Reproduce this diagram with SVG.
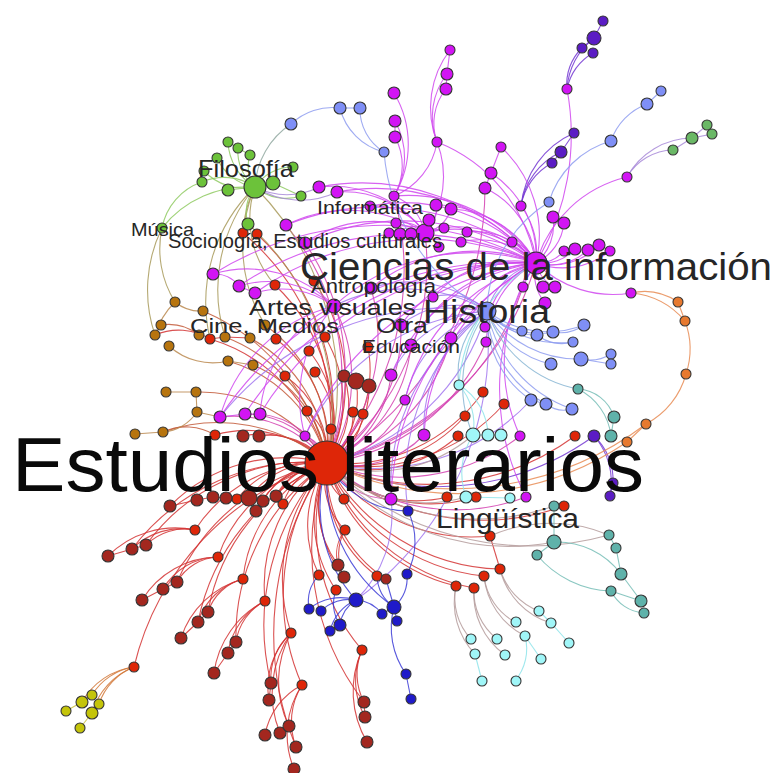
<svg xmlns="http://www.w3.org/2000/svg" width="774" height="773" viewBox="0 0 774 773">
<style>
#edges path{fill:none;stroke-width:1.1;stroke-opacity:.85}
.r path{stroke:#d43434}.rb path{stroke:#c35a3a}.rm path{stroke:#d440b0}.m path{stroke:#d048ee}
.b path{stroke:#8e9cf0}.g path{stroke:#8fca62}.gm path{stroke:#a88ad8}.gb path{stroke:#a89a5a}
.br path{stroke:#bb8a50}.rc path{stroke:#b59c9c}.c path{stroke:#8ee4ea}.t path{stroke:#76bdb6}
.o path{stroke:#e88c55}.p path{stroke:#7438d2}.db path{stroke:#3b3bd6}.bm path{stroke:#a277f0}
.bt path{stroke:#88b6d4}.ry path{stroke:#d27838}.bg path{stroke:#90a8a0}.ye path{stroke:#c8c040}
#nodes circle{stroke:#353535;stroke-width:1.1}
.red{fill:#de2608}.dr{fill:#a3271f}.mg{fill:#d214f4}.bl{fill:#7f8ff6}.gr{fill:#6cc23a}.dg{fill:#6ab866}
.pu{fill:#5b1cc4}.bw{fill:#b7740e}.dbl{fill:#1f1ac9}.cy{fill:#a0f6f8}.te{fill:#5fb2aa}.or{fill:#e7792f}.ye{fill:#c4c40a}
.lab{font-family:"Liberation Sans",Arial,sans-serif;fill:#262626}
</style>
<rect width="774" height="773" fill="#fff"/>
<g id="edges">
<g class="r">
<path d="M327 463A245 245 0 0 0 243 233"/><path d="M327 463A240 240 0 0 0 257 234"/><path d="M327 463A185 185 0 0 0 275 285"/>
<path d="M327 463A170 170 0 0 0 210 339"/><path d="M327 463A134 134 0 0 0 276 339"/><path d="M327 463A126 126 0 0 0 325 337"/>
<path d="M327 463A113 113 0 0 0 309 351"/><path d="M327 463A97 97 0 0 0 285 376"/><path d="M327 463A92 92 0 0 0 315 372"/>
<path d="M327 463A56 56 0 0 0 307 411"/><path d="M327 463A40 40 0 0 0 331 429"/><path d="M327 463A57 57 0 0 0 353 412"/>
<path d="M327 463A61 61 0 0 0 363 414"/><path d="M327 463A115 115 0 0 0 215 435"/><path d="M327 463A97 97 0 0 0 237 499"/>
<path d="M327 463A60 60 0 0 0 277 497"/><path d="M327 463A60 60 0 0 0 283 504"/><path d="M327 463A40 40 0 0 0 344 499"/>
<path d="M327 463A148 148 0 0 0 195 530"/><path d="M327 463A144 144 0 0 0 218 557"/><path d="M327 463A143 143 0 0 0 243 579"/>
<path d="M327 463A281 281 0 0 0 134 667"/><path d="M327 463A151 151 0 0 0 265 601"/><path d="M327 463A174 174 0 0 0 291 633"/>
<path d="M327 463A223 223 0 0 0 302 685"/><path d="M327 463A190 190 0 0 0 362 650"/><path d="M327 463A69 69 0 0 0 345 530"/>
<path d="M327 463A112 112 0 0 0 319 575"/><path d="M327 463A127 127 0 0 0 336 590"/><path d="M327 463A124 124 0 0 0 377 576"/>
<path d="M327 463A123 123 0 0 0 368 347"/><path d="M327 463A171 171 0 0 0 483 392"/><path d="M327 463A187 187 0 0 0 504 404"/>
<path d="M327 463A146 146 0 0 0 465 416"/><path d="M327 463A134 134 0 0 0 458 436"/><path d="M327 463A125 125 0 0 0 447 497"/>
<path d="M327 463A153 153 0 0 0 476 497"/><path d="M327 463A179 179 0 0 0 490 536"/><path d="M327 463A203 203 0 0 0 500 569"/>
<path d="M327 463A193 193 0 0 0 484 576"/><path d="M327 463A193 193 0 0 0 474 588"/><path d="M327 463A178 178 0 0 0 456 586"/>
<path d="M327 463A249 249 0 0 0 575 436"/><path d="M327 463A241 241 0 0 0 564 506"/><path d="M327 463A182 182 0 0 0 314 281"/>
<path d="M327 463A88 88 0 0 0 243 436"/><path d="M327 463A73 73 0 0 0 259 436"/><path d="M327 463A85 85 0 0 0 249 498"/>
<path d="M327 463A89 89 0 0 0 344 376"/><path d="M327 463A87 87 0 0 0 356 381"/><path d="M327 463A88 88 0 0 0 369 386"/>
<path d="M327 463A103 103 0 0 0 338 565"/><path d="M327 463A115 115 0 0 0 344 577"/><path d="M327 463A130 130 0 0 0 386 579"/>
<path d="M327 463A163 163 0 0 0 170 506"/><path d="M327 463A61 61 0 0 0 276 496"/><path d="M327 463A74 74 0 0 0 263 501"/>
<path d="M327 463A86 86 0 0 0 256 511"/>
<path d="M327 463A200 200 0 0 0 146 545"/><path d="M327 463A205 205 0 0 0 177 582"/><path d="M327 463A200 200 0 0 0 208 612"/>
<path d="M327 463A210 210 0 0 0 236 642"/><path d="M327 463A240 240 0 0 0 271 683"/><path d="M327 463A250 250 0 0 0 364 702"/>
<path d="M327 463A300 300 0 0 0 296 747"/><path d="M327 463A220 220 0 0 0 132 549"/><path d="M327 463A220 220 0 0 0 198 622"/>
<path d="M195 530A55 55 0 0 0 146 545"/><path d="M195 530A70 70 0 0 0 132 549"/><path d="M195 530A95 95 0 0 0 108 556"/>
<path d="M218 557A50 50 0 0 0 177 582"/><path d="M218 557A65 65 0 0 0 163 589"/><path d="M218 557A90 90 0 0 0 142 600"/>
<path d="M243 579A50 50 0 0 0 208 612"/><path d="M243 579A65 65 0 0 0 198 622"/><path d="M243 579A90 90 0 0 0 181 638"/>
<path d="M265 601A55 55 0 0 0 236 642"/><path d="M265 601A70 70 0 0 0 228 653"/><path d="M265 601A95 95 0 0 0 214 673"/>
<path d="M291 633A60 60 0 0 0 271 683"/><path d="M291 633A75 75 0 0 0 269 700"/><path d="M291 633A100 100 0 0 0 289 726"/><path d="M291 633A105 105 0 0 0 280 733"/>
<path d="M302 685A70 70 0 0 0 296 747"/><path d="M302 685A90 90 0 0 0 294 769"/><path d="M302 685A70 70 0 0 0 265 735"/>
<path d="M362 650A60 60 0 0 0 364 702"/><path d="M362 650A75 75 0 0 0 365 717"/><path d="M362 650A100 100 0 0 0 367 742"/>
<path d="M146 545L132 549L108 556"/><path d="M177 582L163 589L142 600"/><path d="M208 612L198 622L181 638"/>
<path d="M236 642L228 653L214 673"/><path d="M271 683L269 700"/><path d="M364 702L365 717"/><path d="M280 733L289 726"/>
<path d="M170 506L197 500L213 497L226 498L237 499L249 498L263 501"/>
<path d="M345 530A40 40 0 0 0 338 565"/><path d="M345 530A50 50 0 0 0 344 577"/><path d="M338 565L344 577"/>
<path d="M155 335A60 60 0 0 1 210 339"/><path d="M210 339L225 337L250 338"/>
<path d="M490 536L500 569"/>
</g>
<g class="rb">
<path d="M327 463A142 142 0 0 0 228 361"/><path d="M327 463A123 123 0 0 0 253 365"/><path d="M327 463A149 149 0 0 0 196 392"/>
<path d="M327 463A147 147 0 0 0 250 338"/><path d="M327 463A162 162 0 0 0 225 337"/><path d="M327 463A151 151 0 0 0 265 325"/>
<path d="M327 463A167 167 0 0 0 163 432"/><path d="M327 463A210 210 0 0 0 203 311"/><path d="M163 432A55 55 0 0 1 215 435"/>
<path d="M161 325A50 50 0 0 1 199 335"/>
</g>
<g class="rm">
<path d="M327 463A35 35 0 0 0 305 436"/><path d="M327 463A116 116 0 0 0 220 417"/><path d="M327 463A73 73 0 0 0 391 499"/>
<path d="M327 463A101 101 0 0 0 424 435"/><path d="M327 463A100 100 0 0 0 405 400"/><path d="M327 463A157 157 0 0 0 334 306"/>
<path d="M327 463A290 290 0 0 0 536 263"/><path d="M327 463A250 250 0 0 0 425 233"/><path d="M327 463A109 109 0 0 0 391 375"/>
<path d="M327 463A180 180 0 0 0 371 288"/><path d="M327 463A83 83 0 0 0 260 414"/><path d="M327 463A95 95 0 0 0 245 414"/>
<path d="M327 463A157 157 0 0 0 401 325"/><path d="M327 463A145 145 0 0 0 411 345"/><path d="M327 463A195 195 0 0 0 520 436"/>
<path d="M327 463A200 200 0 0 0 526 497"/><path d="M327 463A280 280 0 0 0 394 196"/><path d="M327 463A320 320 0 0 0 485 188"/>
<path d="M327 463A175 175 0 0 0 451 338"/><path d="M327 463A200 200 0 0 0 486 342"/><path d="M327 463A265 265 0 0 0 523 287"/>
<path d="M327 463A240 240 0 0 0 286 225"/><path d="M327 463A230 230 0 0 0 305 243"/>
</g>
<g class="bm">
<path d="M327 463A221 221 0 0 0 487 311"/><path d="M327 463A213 213 0 0 0 531 400"/>
<path d="M487 311A160 160 0 0 0 334 306"/><path d="M487 311A120 120 0 0 0 405 400"/><path d="M487 311A115 115 0 0 0 391 375"/>
<path d="M487 311A140 140 0 0 0 424 435"/><path d="M487 311A210 210 0 0 0 391 499"/><path d="M487 311A220 220 0 0 0 305 436"/>
<path d="M487 311A120 120 0 0 0 371 288"/><path d="M487 311A55 55 0 0 0 433 297"/><path d="M487 311A87 87 0 0 0 401 325"/>
<path d="M487 311A290 290 0 0 0 220 417"/><path d="M487 311A215 215 0 0 0 408 511"/><path d="M487 311A320 320 0 0 1 356 600"/>
<path d="M391 499A120 120 0 0 1 356 600"/><path d="M536 263A70 70 0 0 0 487 311"/>
</g>
<g class="rc">
<path d="M327 463A149 149 0 0 0 473 435"/><path d="M327 463A143 143 0 0 0 466 497"/><path d="M327 463A240 240 0 0 0 554 542"/>
<path d="M327 463A231 231 0 0 0 554 506"/><path d="M327 463A291 291 0 0 0 609 535"/><path d="M490 536A150 150 0 0 1 609 535"/>
<path d="M456 586A60 60 0 0 0 471 639"/><path d="M456 586A75 75 0 0 0 475 654"/><path d="M474 588A60 60 0 0 0 497 639"/>
<path d="M474 588A75 75 0 0 0 505 655"/><path d="M484 576A60 60 0 0 0 515 622"/><path d="M484 576A75 75 0 0 0 525 636"/>
<path d="M500 569A65 65 0 0 0 539 611"/><path d="M500 569A75 75 0 0 0 551 623"/><path d="M554 506L564 506"/>
</g>
<g class="db">
<path d="M327 463A140 140 0 0 0 356 600"/><path d="M327 463A159 159 0 0 0 394 607"/><path d="M327 463A94 94 0 0 0 408 511"/>
<path d="M356 600A50 50 0 0 0 309 609"/><path d="M356 600A40 40 0 0 0 321 611"/><path d="M356 600A35 35 0 0 0 340 625"/>
<path d="M356 600A45 45 0 0 0 330 631"/><path d="M356 600A35 35 0 0 1 382 614"/><path d="M394 607L397 621"/><path d="M394 607L382 614"/>
<path d="M394 607A40 40 0 0 0 407 574"/><path d="M394 607A80 80 0 0 0 406 674"/><path d="M406 674L411 699"/>
<path d="M408 511A70 70 0 0 1 407 574"/><path d="M386 579L394 607"/><path d="M377 576A40 40 0 0 0 394 607"/>
<path d="M319 575A40 40 0 0 0 309 609"/><path d="M336 590A40 40 0 0 0 340 625"/><path d="M340 625L330 631"/>
</g>
<g class="gb">
<path d="M327 463A285 285 0 0 0 255 187"/><path d="M327 463A252 252 0 0 0 248 224"/>
<path d="M255 187A100 100 0 0 0 275 285"/><path d="M255 187A150 150 0 0 0 265 325"/><path d="M255 187A160 160 0 0 0 225 337"/>
<path d="M255 187A160 160 0 0 0 210 339"/><path d="M255 187A110 110 0 0 0 243 233"/>
<path d="M162 228A100 100 0 0 0 175 302"/><path d="M162 228A140 140 0 0 0 155 335"/>
</g>
<g class="p">
<path d="M327 463A268 268 0 0 0 594 436"/><path d="M594 436A60 60 0 0 1 613 483"/><path d="M594 436A70 70 0 0 1 610 496"/>
<path d="M610 496L613 483"/>
<path d="M567 89A70 70 0 0 1 594 38"/><path d="M567 89A50 50 0 0 1 582 48"/><path d="M567 89A55 55 0 0 1 593 53"/>
<path d="M594 38L603 21"/><path d="M582 48L594 38"/>
<path d="M521 206A60 60 0 0 1 552 163"/><path d="M521 206A70 70 0 0 1 561 152"/><path d="M521 206A90 90 0 0 1 574 133"/>
<path d="M552 163L561 152L574 133"/>
</g>
<g class="o">
<path d="M327 463A300 300 0 0 0 627 442"/><path d="M327 463A320 320 0 0 0 646 424"/>
<path d="M631 293A60 60 0 0 1 678 302"/><path d="M678 302L685 321"/><path d="M685 321A80 80 0 0 1 686 374"/>
<path d="M686 374A80 80 0 0 1 646 424"/><path d="M646 424L627 442"/><path d="M631 293A80 80 0 0 1 685 321"/>
</g>
<g class="m">
<path d="M536 263A35 35 0 0 0 512 242"/><path d="M536 263A35 35 0 0 0 564 251"/><path d="M536 263A45 45 0 0 0 575 249"/>
<path d="M536 263A55 55 0 0 0 588 250"/><path d="M536 263A65 65 0 0 0 599 245"/><path d="M536 263A75 75 0 0 0 610 251"/>
<path d="M536 263A30 30 0 0 0 523 287"/><path d="M536 263A30 30 0 0 0 543 287"/><path d="M536 263A35 35 0 0 0 555 287"/>
<path d="M536 263A45 45 0 0 0 545 303"/><path d="M536 263A50 50 0 0 0 553 217"/><path d="M536 263A50 50 0 0 0 564 223"/>
<path d="M536 263A90 90 0 0 0 485 188"/><path d="M536 263A100 100 0 0 0 491 173"/><path d="M536 263A120 120 0 0 0 501 147"/>
<path d="M536 263A160 160 0 0 0 437 142"/><path d="M536 263A115 115 0 0 0 425 233"/><path d="M536 263A75 75 0 0 0 467 232"/>
<path d="M536 263A80 80 0 0 0 461 242"/><path d="M536 263A100 100 0 0 0 444 228"/><path d="M536 263A100 100 0 0 0 451 209"/>
<path d="M536 263A115 115 0 0 0 436 205"/><path d="M536 263A155 155 0 0 0 394 196"/><path d="M536 263A230 230 0 0 0 319 187"/>
<path d="M536 263A210 210 0 0 0 337 192"/><path d="M536 263A230 230 0 0 0 305 243"/><path d="M536 263A250 250 0 0 0 286 225"/>
<path d="M536 263A205 205 0 0 0 334 306"/><path d="M536 263A165 165 0 0 0 371 288"/><path d="M536 263A150 150 0 0 0 401 325"/>
<path d="M536 263A150 150 0 0 0 411 345"/><path d="M536 263A110 110 0 0 0 433 297"/><path d="M536 263A115 115 0 0 0 451 338"/>
<path d="M536 263A80 80 0 0 0 486 327"/><path d="M536 263A95 95 0 0 0 486 342"/><path d="M536 263A185 185 0 0 0 391 375"/>
<path d="M536 263A190 190 0 0 0 405 400"/><path d="M536 263A205 205 0 0 0 424 435"/><path d="M536 263A175 175 0 0 0 520 436"/>
<path d="M536 263A235 235 0 0 0 526 497"/><path d="M536 263A280 280 0 0 0 391 499"/><path d="M536 263A350 350 0 0 0 220 417"/>
<path d="M536 263A330 330 0 0 0 245 414"/><path d="M536 263A315 315 0 0 0 260 414"/><path d="M536 263A325 325 0 0 0 213 274"/>
<path d="M536 263A300 300 0 0 0 239 286"/><path d="M536 263A285 285 0 0 0 255 293"/><path d="M536 263A125 125 0 0 1 627 177"/>
<path d="M536 263A290 290 0 0 0 305 436"/><path d="M536 263A175 175 0 0 0 370 206"/><path d="M536 263A250 250 0 0 0 567 89"/>
<path d="M536 263A80 80 0 0 0 521 206"/><path d="M536 263A110 110 0 0 0 631 293"/>
<path d="M425 233A30 30 0 0 0 436 205"/><path d="M425 233A35 35 0 0 0 451 209"/><path d="M425 233L429 220"/>
<path d="M425 233A30 30 0 0 0 396 223"/><path d="M425 233A36 36 0 0 0 389 233"/><path d="M425 233L400 234"/><path d="M425 233L411 234"/>
<path d="M425 233L444 228"/><path d="M425 233A60 60 0 0 0 370 206"/><path d="M425 233A50 50 0 0 0 394 196"/>
<path d="M425 233A115 115 0 0 0 319 187"/><path d="M425 233A100 100 0 0 0 337 192"/><path d="M425 233A120 120 0 0 0 305 243"/>
<path d="M425 233A140 140 0 0 0 286 225"/><path d="M425 233A95 95 0 0 0 437 142"/>
<path d="M501 147L491 173L485 188"/>
<path d="M437 142A55 55 0 0 1 446 89"/><path d="M437 142A70 70 0 0 1 447 74"/><path d="M437 142A95 95 0 0 1 450 50"/>
<path d="M446 89L447 74L450 50"/><path d="M437 142A70 70 0 0 1 394 196"/>
<path d="M394 196A60 60 0 0 0 395 137"/><path d="M394 196A75 75 0 0 0 395 121"/><path d="M394 196A100 100 0 0 0 394 93"/>
<path d="M395 121L395 137"/>
<path d="M213 274A30 30 0 0 1 239 286"/><path d="M239 286L255 293"/>
<path d="M334 306A120 120 0 0 0 213 274"/><path d="M334 306A100 100 0 0 0 239 286"/><path d="M334 306A90 90 0 0 0 255 293"/>
<path d="M334 306A140 140 0 0 0 305 436"/><path d="M334 306A130 130 0 0 0 260 414"/><path d="M334 306A160 160 0 0 0 220 417"/>
<path d="M220 417L245 414L260 414"/>
</g>
<g class="br">
<path d="M175 302A40 40 0 0 0 203 311"/><path d="M161 325L155 335"/><path d="M175 302A80 80 0 0 0 155 335"/>
<path d="M169 346A65 65 0 0 0 228 361"/><path d="M228 361L253 365"/><path d="M166 392L196 392L197 412"/>
<path d="M197 412A45 45 0 0 1 163 432"/><path d="M163 432L135 434"/><path d="M197 412L220 417"/>
</g>
<g class="b">
<path d="M384 152A60 60 0 0 1 340 108"/><path d="M384 152A50 50 0 0 1 360 108"/><path d="M340 108L360 108"/>
<path d="M340 108A60 60 0 0 0 291 124"/><path d="M384 152A200 200 0 0 0 487 311"/>
<path d="M549 202A90 90 0 0 1 611 141"/><path d="M611 141A60 60 0 0 1 647 104"/><path d="M647 104L661 91"/>
<path d="M487 311A130 130 0 0 1 549 202"/>
<path d="M487 311A50 50 0 0 0 522 331"/><path d="M487 311A60 60 0 0 0 537 335"/><path d="M487 311A70 70 0 0 0 553 332"/>
<path d="M487 311A100 100 0 0 0 584 325"/><path d="M487 311A100 100 0 0 0 573 342"/><path d="M487 311A110 110 0 0 0 581 359"/>
<path d="M487 311A90 90 0 0 0 551 364"/><path d="M487 311A100 100 0 0 0 531 400"/><path d="M487 311A110 110 0 0 0 546 404"/>
<path d="M487 311A130 130 0 0 0 572 409"/><path d="M581 359A40 40 0 0 0 611 354"/><path d="M581 359L611 364"/>
<path d="M537 335A40 40 0 0 0 573 342"/><path d="M553 332A40 40 0 0 0 584 325"/><path d="M531 400L546 404"/>
<path d="M546 404A30 30 0 0 0 572 409"/>
</g>
<g class="bg"><path d="M291 124A80 80 0 0 0 255 187"/></g>
<g class="bt">
<path d="M487 311A120 120 0 0 0 578 389"/><path d="M487 311A80 80 0 0 0 459 385"/><path d="M487 311A125 125 0 0 0 473 435"/>
</g>
<g class="t">
<path d="M578 389A40 40 0 0 1 614 417"/><path d="M578 389A60 60 0 0 1 611 436"/><path d="M614 417L611 436"/>
<path d="M554 542L537 555"/><path d="M554 542A80 80 0 0 1 621 574"/><path d="M554 542L554 506"/>
<path d="M537 555A100 100 0 0 0 611 591"/><path d="M611 591L641 601"/><path d="M611 591A40 40 0 0 0 644 613"/>
<path d="M621 574L641 601"/><path d="M609 535L616 548L621 574"/>
</g>
<g class="c">
<path d="M475 654L482 681"/><path d="M525 636A50 50 0 0 1 515 681"/><path d="M525 636L541 659"/>
<path d="M539 611L551 623L569 643"/><path d="M473 435L488 435L501 435"/><path d="M459 385A60 60 0 0 1 473 435"/>
<path d="M459 385A60 60 0 0 1 488 435"/><path d="M473 435A70 70 0 0 0 466 497"/><path d="M466 497L510 498"/>
<path d="M536 263A150 150 0 0 0 459 385"/>
</g>
<g class="g">
<path d="M255 187A55 55 0 0 1 228 142"/><path d="M255 187A45 45 0 0 1 238 148"/><path d="M255 187A35 35 0 0 1 250 155"/>
<path d="M255 187A50 50 0 0 1 217 158"/><path d="M255 187A55 55 0 0 1 204 171"/><path d="M255 187A55 55 0 0 0 202 182"/>
<path d="M255 187L228 190"/><path d="M255 187A40 40 0 0 0 248 224"/><path d="M255 187L273 183"/>
<path d="M255 187A45 45 0 0 1 293 167"/><path d="M255 187A48 48 0 0 0 301 196"/><path d="M255 187A110 110 0 0 0 162 228"/>
<path d="M202 182A60 60 0 0 0 162 228"/><path d="M228 142L238 148L250 155"/><path d="M273 183L301 196"/>
</g>
<g class="gm">
<path d="M255 187A70 70 0 0 0 319 187"/><path d="M255 187A85 85 0 0 0 337 192"/>
<path d="M627 177A55 55 0 0 1 673 150"/><path d="M627 177A75 75 0 0 1 692 138"/><path d="M673 150L692 138L707 125L712 134L692 138"/>
</g>
<g class="ry">
<path d="M134 667A60 60 0 0 0 92 695"/><path d="M134 667A70 70 0 0 0 82 702"/><path d="M134 667A60 60 0 0 0 99 704"/>
<path d="M134 667A70 70 0 0 0 92 713"/>
</g>
<g class="ye"><path d="M92 695L82 702L66 711"/><path d="M92 713L80 728"/><path d="M99 704L92 713"/></g>
</g>
<g id="nodes">
<g id="n-lit"><circle class="red" cx="327" cy="463" r="22"/></g>
<g id="n-cie"><circle class="mg" cx="536" cy="263" r="11"/></g>
<g id="n-inf"><circle class="mg" cx="425" cy="233" r="9"/></g>
<g id="n-his"><circle class="bl" cx="487" cy="311" r="9"/></g>
<g id="n-fil"><circle class="gr" cx="255" cy="187" r="11"/></g>
<g id="n-art"><circle class="mg" cx="334" cy="306" r="7"/></g>
<g id="red-nodes">
<g id="r1"><circle class="red" cx="243" cy="233" r="5"/></g><g id="r2"><circle class="red" cx="257" cy="234" r="5"/></g>
<g id="r3"><circle class="red" cx="275" cy="285" r="5"/></g><g id="r4"><circle class="red" cx="210" cy="339" r="5"/></g>
<g id="r5"><circle class="red" cx="276" cy="339" r="5"/></g><g id="r6"><circle class="red" cx="325" cy="337" r="5"/></g>
<g id="r7"><circle class="red" cx="309" cy="351" r="5"/></g><g id="r8"><circle class="red" cx="285" cy="376" r="5"/></g>
<g id="r9"><circle class="red" cx="315" cy="372" r="5"/></g><g id="r10"><circle class="red" cx="307" cy="411" r="5"/></g>
<g id="r11"><circle class="red" cx="331" cy="429" r="5"/></g><g id="r12"><circle class="red" cx="353" cy="412" r="5"/></g>
<g id="r13"><circle class="red" cx="363" cy="414" r="5"/></g><g id="r14"><circle class="red" cx="215" cy="435" r="5"/></g>
<g id="r15"><circle class="red" cx="237" cy="499" r="5"/></g><g id="r16"><circle class="red" cx="277" cy="497" r="5"/></g>
<g id="r17"><circle class="red" cx="283" cy="504" r="5"/></g><g id="r18"><circle class="red" cx="344" cy="499" r="5"/></g>
<g id="r19"><circle class="red" cx="195" cy="530" r="5"/></g><g id="r20"><circle class="red" cx="218" cy="557" r="5"/></g>
<g id="r21"><circle class="red" cx="243" cy="579" r="5"/></g><g id="r22"><circle class="red" cx="134" cy="667" r="5"/></g>
<g id="r23"><circle class="red" cx="265" cy="601" r="5"/></g><g id="r24"><circle class="red" cx="291" cy="633" r="5"/></g>
<g id="r25"><circle class="red" cx="302" cy="685" r="5"/></g><g id="r26"><circle class="red" cx="362" cy="650" r="5"/></g>
<g id="r27"><circle class="red" cx="345" cy="530" r="5"/></g><g id="r28"><circle class="red" cx="319" cy="575" r="5"/></g>
<g id="r29"><circle class="red" cx="336" cy="590" r="5"/></g><g id="r30"><circle class="red" cx="377" cy="576" r="5"/></g>
<g id="r32"><circle class="red" cx="368" cy="347" r="5"/></g><g id="r33"><circle class="red" cx="483" cy="392" r="5"/></g>
<g id="r34"><circle class="red" cx="504" cy="404" r="5"/></g><g id="r35"><circle class="red" cx="465" cy="416" r="5"/></g>
<g id="r36"><circle class="red" cx="458" cy="436" r="5"/></g><g id="r37"><circle class="red" cx="447" cy="497" r="5"/></g>
<g id="r38"><circle class="red" cx="476" cy="497" r="5"/></g><g id="r39"><circle class="red" cx="490" cy="536" r="5"/></g>
<g id="r40"><circle class="red" cx="500" cy="569" r="5"/></g><g id="r41"><circle class="red" cx="484" cy="576" r="5"/></g>
<g id="r42"><circle class="red" cx="474" cy="588" r="5"/></g><g id="r43"><circle class="red" cx="456" cy="586" r="5"/></g>
<g id="r44"><circle class="red" cx="575" cy="436" r="5"/></g><g id="r45"><circle class="red" cx="564" cy="506" r="5"/></g>
<g id="r46"><circle class="red" cx="314" cy="281" r="5"/></g>
</g>
<g id="darkred-nodes">
<g id="d1"><circle class="dr" cx="243" cy="436" r="6"/></g><g id="d2"><circle class="dr" cx="259" cy="436" r="6"/></g>
<g id="d3"><circle class="dr" cx="170" cy="506" r="6"/></g><g id="d4"><circle class="dr" cx="197" cy="500" r="6"/></g>
<g id="d5"><circle class="dr" cx="213" cy="497" r="6"/></g><g id="d6"><circle class="dr" cx="226" cy="498" r="6"/></g>
<g id="d7"><circle class="dr" cx="249" cy="498" r="8"/></g><g id="d8"><circle class="dr" cx="263" cy="501" r="6"/></g>
<g id="d9"><circle class="dr" cx="256" cy="511" r="6"/></g><g id="d10"><circle class="dr" cx="276" cy="496" r="6"/></g>
<g id="d12"><circle class="dr" cx="344" cy="376" r="6"/></g><g id="d13"><circle class="dr" cx="356" cy="381" r="8"/></g>
<g id="d14"><circle class="dr" cx="369" cy="386" r="7"/></g><g id="d15"><circle class="dr" cx="146" cy="545" r="6"/></g>
<g id="d16"><circle class="dr" cx="132" cy="549" r="6"/></g><g id="d17"><circle class="dr" cx="108" cy="556" r="6"/></g>
<g id="d18"><circle class="dr" cx="177" cy="582" r="6"/></g><g id="d19"><circle class="dr" cx="163" cy="589" r="6"/></g>
<g id="d20"><circle class="dr" cx="142" cy="600" r="6"/></g><g id="d21"><circle class="dr" cx="208" cy="612" r="6"/></g>
<g id="d22"><circle class="dr" cx="198" cy="622" r="6"/></g><g id="d23"><circle class="dr" cx="181" cy="638" r="6"/></g>
<g id="d24"><circle class="dr" cx="236" cy="642" r="6"/></g><g id="d25"><circle class="dr" cx="228" cy="653" r="6"/></g>
<g id="d26"><circle class="dr" cx="214" cy="673" r="6"/></g><g id="d27"><circle class="dr" cx="338" cy="565" r="6"/></g>
<g id="d28"><circle class="dr" cx="344" cy="577" r="6"/></g><g id="d29"><circle class="dr" cx="386" cy="579" r="5"/></g>
<g id="d30"><circle class="dr" cx="271" cy="683" r="6"/></g><g id="d31"><circle class="dr" cx="269" cy="700" r="6"/></g>
<g id="d32"><circle class="dr" cx="265" cy="735" r="6"/></g><g id="d33"><circle class="dr" cx="280" cy="733" r="6"/></g>
<g id="d34"><circle class="dr" cx="289" cy="726" r="6"/></g><g id="d35"><circle class="dr" cx="296" cy="747" r="6"/></g>
<g id="d36"><circle class="dr" cx="294" cy="769" r="6"/></g><g id="d37"><circle class="dr" cx="364" cy="702" r="6"/></g>
<g id="d38"><circle class="dr" cx="365" cy="717" r="6"/></g><g id="d39"><circle class="dr" cx="367" cy="742" r="6"/></g>
</g>
<g id="magenta-nodes">
<g id="m1"><circle class="mg" cx="213" cy="274" r="6"/></g><g id="m2"><circle class="mg" cx="239" cy="286" r="6"/></g>
<g id="m3"><circle class="mg" cx="255" cy="293" r="6"/></g><g id="m4"><circle class="mg" cx="220" cy="417" r="6"/></g>
<g id="m5"><circle class="mg" cx="245" cy="414" r="6"/></g><g id="m6"><circle class="mg" cx="260" cy="414" r="6"/></g>
<g id="m7"><circle class="mg" cx="305" cy="436" r="5"/></g><g id="m8"><circle class="mg" cx="391" cy="375" r="6"/></g>
<g id="m9"><circle class="mg" cx="405" cy="400" r="5"/></g><g id="m10"><circle class="mg" cx="424" cy="435" r="6"/></g>
<g id="m11"><circle class="mg" cx="391" cy="499" r="6"/></g><g id="m12"><circle class="mg" cx="286" cy="225" r="6"/></g>
<g id="m13"><circle class="mg" cx="319" cy="187" r="6"/></g><g id="m14"><circle class="mg" cx="337" cy="192" r="6"/></g>
<g id="m15"><circle class="mg" cx="371" cy="288" r="6"/></g><g id="m16"><circle class="mg" cx="401" cy="325" r="6"/></g>
<g id="m17"><circle class="mg" cx="411" cy="345" r="6"/></g><g id="m18"><circle class="mg" cx="451" cy="338" r="6"/></g>
<g id="m19"><circle class="mg" cx="485" cy="327" r="5"/></g><g id="m20"><circle class="mg" cx="486" cy="342" r="5"/></g>
<g id="m21"><circle class="mg" cx="433" cy="297" r="5"/></g><g id="m22"><circle class="mg" cx="305" cy="243" r="6"/></g>
<g id="m23"><circle class="mg" cx="394" cy="196" r="5"/></g><g id="m24"><circle class="mg" cx="436" cy="205" r="6"/></g>
<g id="m25"><circle class="mg" cx="451" cy="209" r="6"/></g><g id="m26"><circle class="mg" cx="429" cy="220" r="6"/></g>
<g id="m27"><circle class="mg" cx="396" cy="223" r="5"/></g><g id="m28"><circle class="mg" cx="389" cy="233" r="5"/></g>
<g id="m29"><circle class="mg" cx="400" cy="234" r="6"/></g><g id="m30"><circle class="mg" cx="411" cy="234" r="6"/></g>
<g id="m31"><circle class="mg" cx="444" cy="228" r="5"/></g><g id="m32"><circle class="mg" cx="467" cy="232" r="5"/></g>
<g id="m33"><circle class="mg" cx="461" cy="242" r="5"/></g><g id="m34"><circle class="mg" cx="439" cy="247" r="5"/></g>
<g id="m35"><circle class="mg" cx="512" cy="242" r="5"/></g><g id="m36"><circle class="mg" cx="450" cy="50" r="5"/></g>
<g id="m37"><circle class="mg" cx="447" cy="74" r="6"/></g><g id="m38"><circle class="mg" cx="446" cy="89" r="6"/></g>
<g id="m39"><circle class="mg" cx="394" cy="93" r="6"/></g><g id="m40"><circle class="mg" cx="395" cy="121" r="6"/></g>
<g id="m41"><circle class="mg" cx="395" cy="137" r="6"/></g><g id="m42"><circle class="mg" cx="437" cy="142" r="5"/></g>
<g id="m43"><circle class="mg" cx="501" cy="147" r="5"/></g><g id="m44"><circle class="mg" cx="491" cy="173" r="6"/></g>
<g id="m45"><circle class="mg" cx="485" cy="188" r="6"/></g><g id="m46"><circle class="mg" cx="567" cy="89" r="5"/></g>
<g id="m47"><circle class="mg" cx="627" cy="177" r="5"/></g><g id="m48"><circle class="mg" cx="521" cy="206" r="5"/></g>
<g id="m49"><circle class="mg" cx="553" cy="217" r="6"/></g><g id="m50"><circle class="mg" cx="564" cy="223" r="6"/></g>
<g id="m51"><circle class="mg" cx="564" cy="251" r="5"/></g><g id="m52"><circle class="mg" cx="575" cy="249" r="6"/></g>
<g id="m53"><circle class="mg" cx="588" cy="250" r="6"/></g><g id="m54"><circle class="mg" cx="599" cy="245" r="6"/></g>
<g id="m55"><circle class="mg" cx="610" cy="251" r="5"/></g><g id="m56"><circle class="mg" cx="523" cy="287" r="5"/></g>
<g id="m57"><circle class="mg" cx="543" cy="287" r="6"/></g><g id="m58"><circle class="mg" cx="555" cy="287" r="6"/></g>
<g id="m59"><circle class="mg" cx="545" cy="303" r="6"/></g><g id="m60"><circle class="mg" cx="631" cy="293" r="5"/></g>
<g id="m61"><circle class="mg" cx="520" cy="436" r="5"/></g><g id="m62"><circle class="mg" cx="526" cy="497" r="5"/></g>
<g id="m63"><circle class="mg" cx="370" cy="206" r="5"/></g>
</g>
<g id="blue-nodes">
<g id="b1"><circle class="bl" cx="291" cy="124" r="6"/></g><g id="b2"><circle class="bl" cx="340" cy="108" r="6"/></g>
<g id="b3"><circle class="bl" cx="360" cy="108" r="6"/></g><g id="b4"><circle class="bl" cx="384" cy="152" r="5"/></g>
<g id="b5"><circle class="bl" cx="611" cy="141" r="6"/></g><g id="b6"><circle class="bl" cx="647" cy="104" r="6"/></g>
<g id="b7"><circle class="bl" cx="661" cy="91" r="5"/></g><g id="b8"><circle class="bl" cx="549" cy="202" r="5"/></g>
<g id="b9"><circle class="bl" cx="522" cy="331" r="5"/></g><g id="b10"><circle class="bl" cx="537" cy="335" r="6"/></g>
<g id="b11"><circle class="bl" cx="553" cy="332" r="6"/></g><g id="b12"><circle class="bl" cx="584" cy="325" r="6"/></g>
<g id="b13"><circle class="bl" cx="573" cy="342" r="5"/></g><g id="b14"><circle class="bl" cx="581" cy="359" r="7"/></g>
<g id="b15"><circle class="bl" cx="551" cy="364" r="6"/></g><g id="b16"><circle class="bl" cx="611" cy="354" r="5"/></g>
<g id="b17"><circle class="bl" cx="611" cy="364" r="5"/></g><g id="b18"><circle class="bl" cx="531" cy="400" r="6"/></g>
<g id="b19"><circle class="bl" cx="546" cy="404" r="6"/></g><g id="b20"><circle class="bl" cx="572" cy="409" r="6"/></g>
</g>
<g id="green-nodes">
<g id="g1"><circle class="gr" cx="273" cy="183" r="7"/></g><g id="g2"><circle class="gr" cx="228" cy="142" r="5"/></g>
<g id="g3"><circle class="gr" cx="238" cy="148" r="5"/></g><g id="g4"><circle class="gr" cx="250" cy="155" r="5"/></g>
<g id="g5"><circle class="gr" cx="217" cy="158" r="5"/></g><g id="g6"><circle class="gr" cx="204" cy="171" r="5"/></g>
<g id="g7"><circle class="gr" cx="202" cy="182" r="5"/></g><g id="g8"><circle class="gr" cx="228" cy="190" r="6"/></g>
<g id="g9"><circle class="gr" cx="248" cy="224" r="6"/></g><g id="g10"><circle class="gr" cx="162" cy="228" r="5"/></g>
<g id="g11"><circle class="gr" cx="293" cy="167" r="5"/></g><g id="g12"><circle class="gr" cx="301" cy="196" r="5"/></g>
<g id="g13"><circle class="dg" cx="707" cy="125" r="5"/></g><g id="g14"><circle class="dg" cx="712" cy="134" r="5"/></g>
<g id="g15"><circle class="dg" cx="692" cy="138" r="6"/></g><g id="g16"><circle class="dg" cx="673" cy="150" r="5"/></g>
</g>
<g id="purple-nodes">
<g id="p1"><circle class="pu" cx="603" cy="21" r="5"/></g><g id="p2"><circle class="pu" cx="594" cy="38" r="7"/></g>
<g id="p3"><circle class="pu" cx="582" cy="48" r="5"/></g><g id="p4"><circle class="pu" cx="593" cy="53" r="5"/></g>
<g id="p5"><circle class="pu" cx="574" cy="133" r="5"/></g><g id="p6"><circle class="pu" cx="561" cy="152" r="6"/></g>
<g id="p7"><circle class="pu" cx="552" cy="163" r="5"/></g><g id="p8"><circle class="pu" cx="594" cy="436" r="6"/></g>
<g id="p9"><circle class="pu" cx="613" cy="483" r="5"/></g><g id="p10"><circle class="pu" cx="610" cy="496" r="5"/></g>
</g>
<g id="brown-nodes">
<g id="w1"><circle class="bw" cx="175" cy="302" r="5"/></g><g id="w2"><circle class="bw" cx="203" cy="311" r="5"/></g>
<g id="w3"><circle class="bw" cx="161" cy="325" r="5"/></g><g id="w4"><circle class="bw" cx="155" cy="335" r="5"/></g>
<g id="w5"><circle class="bw" cx="169" cy="346" r="5"/></g><g id="w6"><circle class="bw" cx="199" cy="335" r="5"/></g>
<g id="w7"><circle class="bw" cx="225" cy="337" r="5"/></g><g id="w8"><circle class="bw" cx="250" cy="338" r="5"/></g>
<g id="w9"><circle class="bw" cx="265" cy="325" r="5"/></g><g id="w10"><circle class="bw" cx="228" cy="361" r="5"/></g>
<g id="w11"><circle class="bw" cx="253" cy="365" r="5"/></g><g id="w12"><circle class="bw" cx="166" cy="392" r="5"/></g>
<g id="w13"><circle class="bw" cx="196" cy="392" r="5"/></g><g id="w14"><circle class="bw" cx="197" cy="412" r="5"/></g>
<g id="w15"><circle class="bw" cx="163" cy="432" r="5"/></g><g id="w16"><circle class="bw" cx="135" cy="434" r="5"/></g>
</g>
<g id="darkblue-nodes">
<g id="k1"><circle class="dbl" cx="408" cy="511" r="5"/></g><g id="k2"><circle class="dbl" cx="309" cy="609" r="5"/></g>
<g id="k3"><circle class="dbl" cx="321" cy="611" r="5"/></g><g id="k4"><circle class="dbl" cx="356" cy="600" r="7"/></g>
<g id="k5"><circle class="dbl" cx="340" cy="625" r="6"/></g><g id="k6"><circle class="dbl" cx="330" cy="631" r="5"/></g>
<g id="k7"><circle class="dbl" cx="382" cy="614" r="5"/></g><g id="k8"><circle class="dbl" cx="394" cy="607" r="7"/></g>
<g id="k9"><circle class="dbl" cx="397" cy="621" r="5"/></g><g id="k10"><circle class="dbl" cx="407" cy="574" r="5"/></g>
<g id="k11"><circle class="dbl" cx="406" cy="674" r="5"/></g><g id="k12"><circle class="dbl" cx="411" cy="699" r="5"/></g>
</g>
<g id="cyan-nodes">
<g id="c1"><circle class="cy" cx="459" cy="385" r="5"/></g><g id="c2"><circle class="cy" cx="473" cy="435" r="7"/></g>
<g id="c3"><circle class="cy" cx="488" cy="435" r="6"/></g><g id="c4"><circle class="cy" cx="501" cy="435" r="6"/></g>
<g id="c5"><circle class="cy" cx="466" cy="497" r="6"/></g><g id="c6"><circle class="cy" cx="510" cy="498" r="5"/></g>
<g id="c7"><circle class="cy" cx="471" cy="639" r="5"/></g><g id="c8"><circle class="cy" cx="497" cy="639" r="5"/></g>
<g id="c9"><circle class="cy" cx="475" cy="654" r="5"/></g><g id="c10"><circle class="cy" cx="505" cy="655" r="5"/></g>
<g id="c11"><circle class="cy" cx="482" cy="681" r="5"/></g><g id="c12"><circle class="cy" cx="516" cy="622" r="5"/></g>
<g id="c13"><circle class="cy" cx="516" cy="681" r="5"/></g><g id="c14"><circle class="cy" cx="539" cy="611" r="5"/></g>
<g id="c15"><circle class="cy" cx="551" cy="623" r="5"/></g><g id="c16"><circle class="cy" cx="569" cy="643" r="5"/></g>
<g id="c17"><circle class="cy" cx="525" cy="636" r="5"/></g><g id="c18"><circle class="cy" cx="541" cy="659" r="5"/></g>
</g>
<g id="teal-nodes">
<g id="t1"><circle class="te" cx="578" cy="389" r="5"/></g><g id="t2"><circle class="te" cx="614" cy="417" r="6"/></g>
<g id="t3"><circle class="te" cx="611" cy="436" r="6"/></g><g id="t4"><circle class="te" cx="554" cy="506" r="5"/></g>
<g id="t5"><circle class="te" cx="609" cy="535" r="5"/></g><g id="t6"><circle class="te" cx="616" cy="548" r="5"/></g>
<g id="t7"><circle class="te" cx="554" cy="542" r="7"/></g><g id="t8"><circle class="te" cx="537" cy="555" r="5"/></g>
<g id="t9"><circle class="te" cx="621" cy="574" r="6"/></g><g id="t10"><circle class="te" cx="611" cy="591" r="5"/></g>
<g id="t11"><circle class="te" cx="641" cy="601" r="6"/></g><g id="t12"><circle class="te" cx="644" cy="613" r="5"/></g>
</g>
<g id="orange-nodes">
<g id="o1"><circle class="or" cx="678" cy="302" r="5"/></g><g id="o2"><circle class="or" cx="685" cy="321" r="5"/></g>
<g id="o3"><circle class="or" cx="686" cy="374" r="5"/></g><g id="o4"><circle class="or" cx="646" cy="424" r="5"/></g>
<g id="o5"><circle class="or" cx="627" cy="442" r="5"/></g>
</g>
<g id="yellow-nodes">
<g id="y1"><circle class="ye" cx="92" cy="695" r="5"/></g><g id="y2"><circle class="ye" cx="82" cy="702" r="6"/></g>
<g id="y3"><circle class="ye" cx="99" cy="704" r="5"/></g><g id="y4"><circle class="ye" cx="66" cy="711" r="5"/></g>
<g id="y5"><circle class="ye" cx="92" cy="713" r="6"/></g><g id="y6"><circle class="ye" cx="80" cy="728" r="5"/></g>
</g>
</g>
<g id="labels" class="lab">
<text x="198" y="177" font-size="24" textLength="96" lengthAdjust="spacingAndGlyphs">Filosofía</text>
<text x="317" y="214" font-size="19" textLength="106" lengthAdjust="spacingAndGlyphs">Informática</text>
<text x="131" y="236" font-size="19" textLength="63" lengthAdjust="spacingAndGlyphs">Música</text>
<text x="168" y="248" font-size="20" textLength="274" lengthAdjust="spacingAndGlyphs">Sociología, Estudios culturales</text>
<text x="300" y="280" font-size="39" textLength="472" lengthAdjust="spacingAndGlyphs">Ciencias de la información</text>
<text x="311" y="293" font-size="21" textLength="125" lengthAdjust="spacingAndGlyphs">Antropología</text>
<text x="249" y="315" font-size="22" textLength="167" lengthAdjust="spacingAndGlyphs">Artes visuales</text>
<text x="423" y="323" font-size="34" textLength="127" lengthAdjust="spacingAndGlyphs">Historia</text>
<text x="190" y="333" font-size="21" textLength="149" lengthAdjust="spacingAndGlyphs">Cine, Medios</text>
<text x="376" y="333" font-size="22" textLength="52" lengthAdjust="spacingAndGlyphs">Otra</text>
<text x="362" y="353" font-size="18" textLength="98" lengthAdjust="spacingAndGlyphs">Educación</text>
<text x="12" y="491" font-size="76" textLength="632" lengthAdjust="spacingAndGlyphs" fill="#0a0a0a" style="fill:#0a0a0a">Estudios literarios</text>
<text x="436" y="528" font-size="27" textLength="143" lengthAdjust="spacingAndGlyphs">Lingüística</text>
</g>
</svg>
